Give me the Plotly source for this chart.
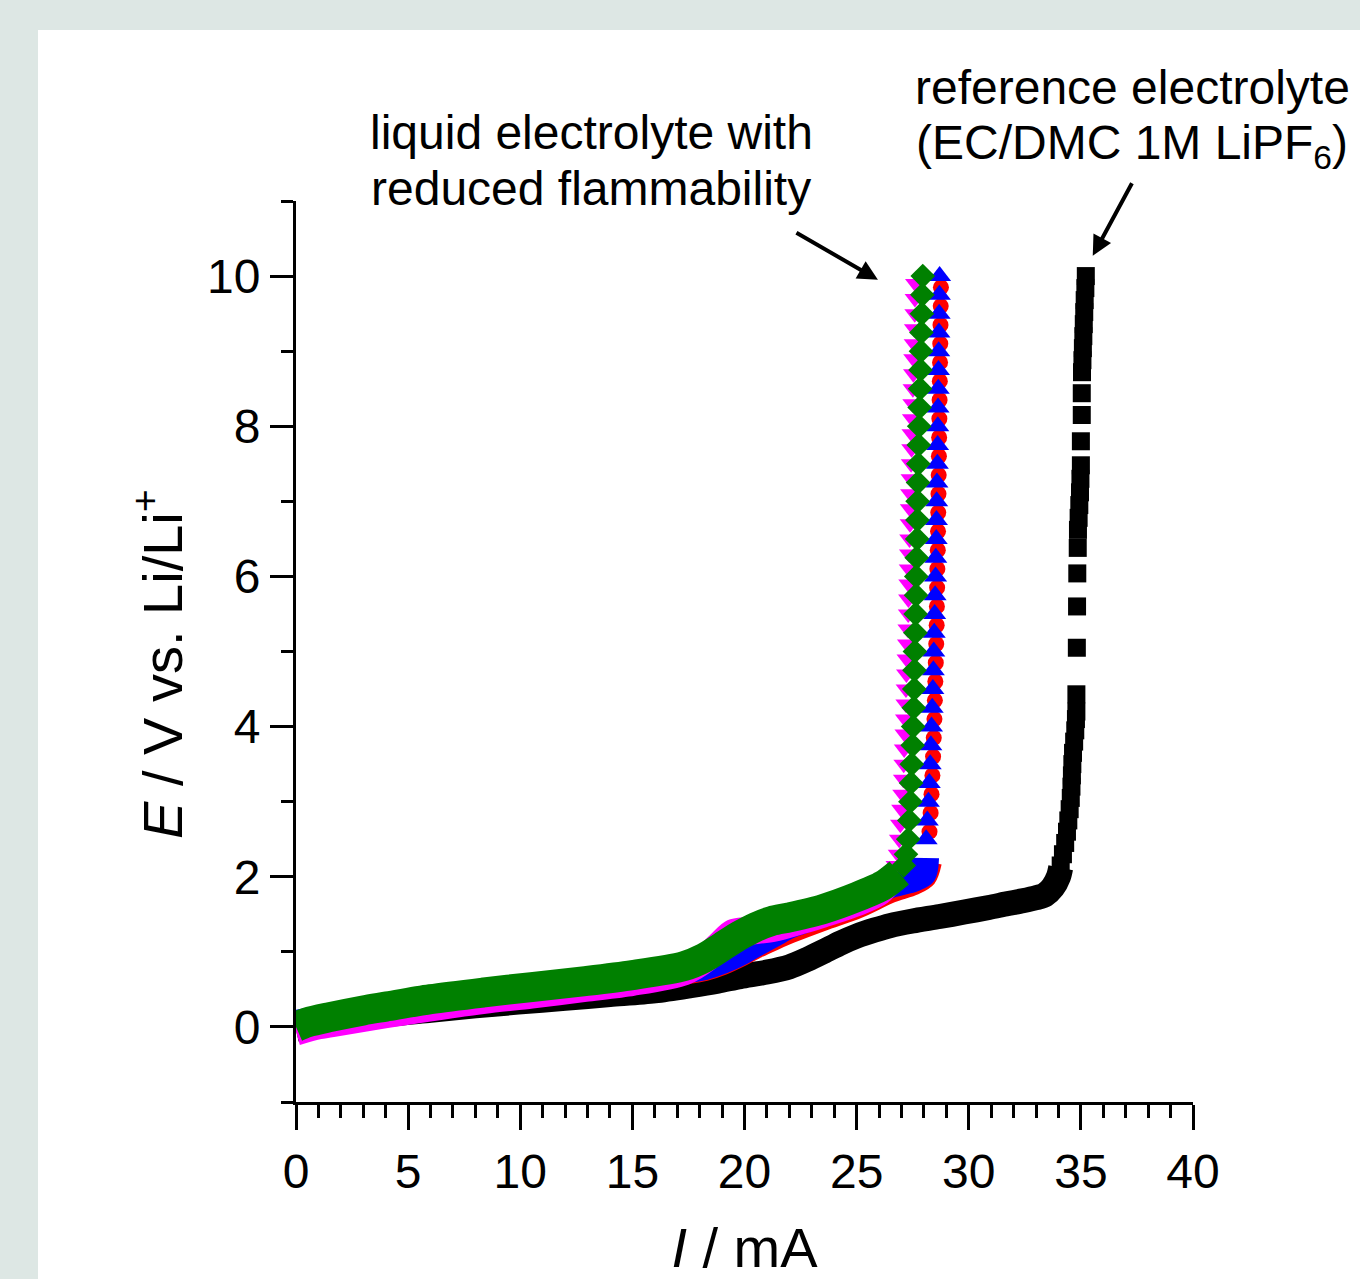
import plotly.graph_objects as go

# ---------------- data ----------------
# reference electrolyte (black squares) - continuous band part
BLK_I = [0.0, 1.0, 2.0, 4.0, 6.0, 8.0, 9.9, 12.0, 14.0, 16.0, 17.6, 18.8, 19.8, 21.0, 22.0, 22.8,
         23.5, 24.3, 25.0, 25.8, 26.5, 27.5, 28.7, 29.8, 30.9, 31.7, 32.4, 33.0, 33.4, 33.75, 34.0, 34.1]
BLK_E = [-0.03, 0.03, 0.08, 0.16, 0.22, 0.28, 0.33, 0.38, 0.43, 0.48, 0.55, 0.61, 0.67, 0.73, 0.80, 0.90,
         1.00, 1.12, 1.21, 1.29, 1.35, 1.41, 1.47, 1.53, 1.59, 1.64, 1.68, 1.72, 1.76, 1.86, 2.00, 2.12]
# reference electrolyte - steep part at high potential
BLK_COL_I = [34.1, 34.2, 34.3, 34.38, 34.44, 34.5, 34.55, 34.58, 34.6, 34.62, 34.65, 34.7, 34.75,
             34.78, 34.8, 34.8, 34.82, 34.83, 34.84, 34.86, 34.87, 34.9, 34.93, 34.96, 34.98, 35.0,
             35.0, 35.04, 35.04, 35.05, 35.07, 35.09, 35.11, 35.13, 35.15, 35.17, 35.2, 35.22]
BLK_COL_E = [2.15, 2.3, 2.45, 2.6, 2.75, 2.9, 3.05, 3.2, 3.35, 3.5, 3.65, 3.8, 3.95,
             4.1, 4.2, 4.43, 5.05, 5.60, 6.04, 6.38, 6.62, 6.78, 6.95, 7.12, 7.30, 7.48,
             7.80, 8.15, 8.44, 8.72, 8.88, 9.04, 9.20, 9.36, 9.52, 9.68, 9.84, 10.0]

# red circles
RED_I = [0.0, 1.0, 2.0, 4.0, 6.0, 8.4, 10.5, 12.9, 15.0, 17.3, 18.2, 19.0, 19.8, 20.5, 21.3, 22.0,
         23.5, 25.0, 26.5, 27.5, 28.0, 28.2]
RED_E = [0.02, 0.07, 0.11, 0.20, 0.29, 0.39, 0.46, 0.54, 0.62, 0.74, 0.79, 0.87, 0.98, 1.09, 1.20, 1.29,
         1.46, 1.62, 1.83, 1.93, 2.02, 2.20]
RED_COL_I = [28.25, 28.3, 28.34, 28.38, 28.41, 28.44, 28.47, 28.49, 28.51, 28.53, 28.55, 28.57, 28.58,
             28.59, 28.6, 28.62, 28.63, 28.64, 28.65, 28.66, 28.67, 28.68, 28.69, 28.7, 28.71, 28.72,
             28.73, 28.74, 28.75, 28.76]
RED_COL_E = [2.6, 2.85, 3.1, 3.35, 3.6, 3.85, 4.1, 4.35, 4.6, 4.85, 5.1, 5.35, 5.6, 5.85, 6.1, 6.35,
             6.6, 6.85, 7.1, 7.35, 7.6, 7.85, 8.1, 8.35, 8.6, 8.85, 9.1, 9.35, 9.6, 9.85]

# blue up-triangles
BLU_I = [0.0, 1.0, 2.0, 4.0, 6.0, 8.4, 10.5, 12.9, 15.0, 17.3, 18.2, 19.0, 19.8, 20.5, 21.3, 22.0,
         23.5, 25.0, 26.5, 27.5, 27.95, 28.05]
BLU_E = [0.04, 0.09, 0.13, 0.22, 0.31, 0.41, 0.48, 0.56, 0.64, 0.76, 0.81, 0.89, 1.00, 1.12, 1.25, 1.36,
         1.52, 1.68, 1.90, 1.98, 2.05, 2.25]
BLU_COL_I = [28.1, 28.15, 28.2, 28.24, 28.28, 28.31, 28.34, 28.37, 28.4, 28.42, 28.44, 28.46, 28.48,
             28.5, 28.52, 28.53, 28.55, 28.56, 28.57, 28.58, 28.6, 28.61, 28.62, 28.63, 28.64, 28.65,
             28.66, 28.67, 28.68, 28.69, 28.7]
BLU_COL_E = [2.5, 2.75, 3.0, 3.25, 3.5, 3.75, 4.0, 4.25, 4.5, 4.75, 5.0, 5.25, 5.5, 5.75, 6.0, 6.25,
             6.5, 6.75, 7.0, 7.25, 7.5, 7.75, 8.0, 8.25, 8.5, 8.75, 9.0, 9.25, 9.5, 9.75, 10.0]

# magenta down-triangles
MAG_I = [0.0, 1.0, 2.0, 4.0, 6.0, 8.4, 10.5, 12.9, 15.0, 17.3, 18.3, 19.0, 19.5, 20.2, 21.3, 22.5,
         23.5, 25.0, 26.0, 26.6]
MAG_E = [-0.06, 0.02, 0.07, 0.17, 0.26, 0.36, 0.43, 0.52, 0.60, 0.74, 0.92, 1.12, 1.25, 1.28, 1.32, 1.42,
         1.51, 1.66, 1.80, 2.00]
MAG_COL_I = [26.75, 26.85, 26.9, 26.95, 27.0, 27.05, 27.08, 27.1, 27.12, 27.15, 27.17, 27.19, 27.2,
             27.22, 27.24, 27.26, 27.28, 27.3, 27.31, 27.32, 27.34, 27.35, 27.36, 27.38, 27.39, 27.4,
             27.42, 27.43, 27.45, 27.46, 27.48, 27.5, 27.51, 27.53, 27.54, 27.56, 27.57, 27.59, 27.6,
             27.62]
MAG_COL_E = [2.15, 2.3, 2.5, 2.7, 2.9, 3.1, 3.3, 3.5, 3.7, 3.9, 4.1, 4.3, 4.5, 4.7, 4.9, 5.1, 5.3, 5.5,
             5.7, 5.9, 6.1, 6.3, 6.5, 6.7, 6.9, 7.1, 7.3, 7.5, 7.7, 7.9, 8.1, 8.3, 8.5, 8.7, 8.9, 9.1,
             9.3, 9.5, 9.7, 9.9]

# green diamonds
GRN_I = [0.0, 0.5, 1.5, 3.0, 4.0, 6.0, 8.4, 10.5, 12.9, 15.0, 17.3, 18.2, 19.0, 19.8, 20.5, 21.2,
         22.0, 23.5, 25.0, 26.2, 26.9]
GRN_E = [0.0, 0.06, 0.13, 0.22, 0.27, 0.37, 0.46, 0.53, 0.61, 0.69, 0.81, 0.92, 1.07, 1.22, 1.33, 1.41,
         1.46, 1.57, 1.73, 1.89, 2.05]
GRN_COL_I = [27.1, 27.2, 27.3, 27.35, 27.4, 27.43, 27.46, 27.5, 27.52, 27.55, 27.57, 27.58, 27.6, 27.62,
             27.63, 27.65, 27.66, 27.68, 27.7, 27.71, 27.72, 27.74, 27.75, 27.77, 27.79, 27.81, 27.83,
             27.85, 27.87, 27.89, 27.91, 27.93, 27.95]
GRN_COL_E = [2.15, 2.3, 2.5, 2.75, 3.0, 3.25, 3.5, 3.75, 4.0, 4.25, 4.5, 4.75, 5.0, 5.25, 5.5, 5.75,
             6.0, 6.25, 6.5, 6.75, 7.0, 7.25, 7.5, 7.75, 8.0, 8.25, 8.5, 8.75, 9.0, 9.25, 9.5, 9.75, 10.0]

X_TICKS = [0, 5, 10, 15, 20, 25, 30, 35, 40]
Y_TICKS = [0, 2, 4, 6, 8, 10]

# ---------------- figure ----------------
W, H = 1360, 1279
ML, MR, MT, MB = 296, 167, 201, 177
PW, PH = W - ML - MR, H - MT - MB
BG = "#dde7e4"


def px(xp):
    return (xp - ML) / PW


def py(yp):
    return (H - MB - yp) / PH


FONT = "Liberation Sans, Arial, sans-serif"

fig = go.Figure()

series = [
    ("black", "square", 18, 25, BLK_I, BLK_E, BLK_COL_I, BLK_COL_E),
    ("#ff0000", "circle", 16, 27, RED_I, RED_E, RED_COL_I, RED_COL_E),
    ("#0000ff", "triangle-up", 20, 28, BLU_I, BLU_E, BLU_COL_I, BLU_COL_E),
    ("#ff00ff", "triangle-down", 18, 28, MAG_I, MAG_E, MAG_COL_I, MAG_COL_E),
    ("#008000", "diamond", 19, 30, GRN_I, GRN_E, GRN_COL_I, GRN_COL_E),
]
for color, sym, msize, lw, bi, be, ci, ce in series:
    fig.add_trace(go.Scatter(
        x=bi, y=be, mode="lines",
        line=dict(color=color, width=lw, shape="spline", smoothing=0.8),
        showlegend=False, hoverinfo="skip"))
    fig.add_trace(go.Scatter(
        x=ci, y=ce, mode="markers",
        marker=dict(symbol=sym, size=msize, color=color, line=dict(width=0)),
        showlegend=False, hoverinfo="skip"))

axis_common = dict(
    showline=True, linecolor="black", linewidth=3, showgrid=False, zeroline=False,
    ticks="outside", tickwidth=3, tickcolor="black",
    tickfont=dict(family=FONT, size=48, color="black"),
    mirror=False,
)

fig.update_xaxes(
    range=[0, 40], tickvals=X_TICKS, ticklen=25,
    minor=dict(dtick=1, tick0=0, ticklen=13, tickwidth=3, tickcolor="black", ticks="outside"),
    title=dict(text="<i>I</i> / mA", font=dict(family=FONT, size=56, color="black"), standoff=34),
    **axis_common)
fig.update_yaxes(
    range=[-1, 11], tickvals=Y_TICKS, ticklen=23,
    minor=dict(dtick=1, tick0=-1, ticklen=12, tickwidth=3, tickcolor="black", ticks="outside"),
    **axis_common)

ann_font = dict(family=FONT, size=48, color="black")
annotations = [
    dict(text="liquid electrolyte with", x=px(591), y=py(132)),
    dict(text="reduced flammability", x=px(591), y=py(188)),
    dict(text="reference electrolyte", x=px(1132), y=py(87)),
    dict(text="(EC/DMC 1M LiPF<sub>6</sub>)", x=px(1132), y=py(146)),
]
for a in annotations:
    a.update(xref="paper", yref="paper", xanchor="center", yanchor="middle",
             showarrow=False, font=ann_font)

# y-axis title
annotations.append(dict(text="<i>E</i> / V vs. Li/Li<sup>+</sup>", x=px(158), y=py(664),
                        xref="paper", yref="paper", xanchor="center", yanchor="middle",
                        textangle=-90, showarrow=False,
                        font=dict(family=FONT, size=56, color="black")))

# arrows
annotations.append(dict(x=25.95, y=9.95, xref="x", yref="y", ax=-83, ay=-48, text="",
                        showarrow=True, arrowhead=2, arrowsize=1, arrowwidth=4, arrowcolor="black"))
annotations.append(dict(x=35.53, y=10.27, xref="x", yref="y", ax=40, ay=-74, text="",
                        showarrow=True, arrowhead=2, arrowsize=1, arrowwidth=4, arrowcolor="black"))

fig.update_layout(
    width=W, height=H,
    margin=dict(l=ML, r=MR, t=MT, b=MB, autoexpand=False),
    paper_bgcolor=BG,
    plot_bgcolor="white",
    font=dict(family=FONT, color="black"),
    annotations=annotations,
    shapes=[dict(type="rect", xref="paper", yref="paper",
                 x0=px(38), x1=px(1400), y0=py(1320), y1=py(30),
                 fillcolor="white", line=dict(width=0), layer="below")],
)

fig.write_html(
    "out.html",
    config={"displayModeBar": False},
    post_script="document.body.style.margin='0px';document.body.style.background='" + BG + "';"
                "document.body.style.overflow='hidden';",
)
